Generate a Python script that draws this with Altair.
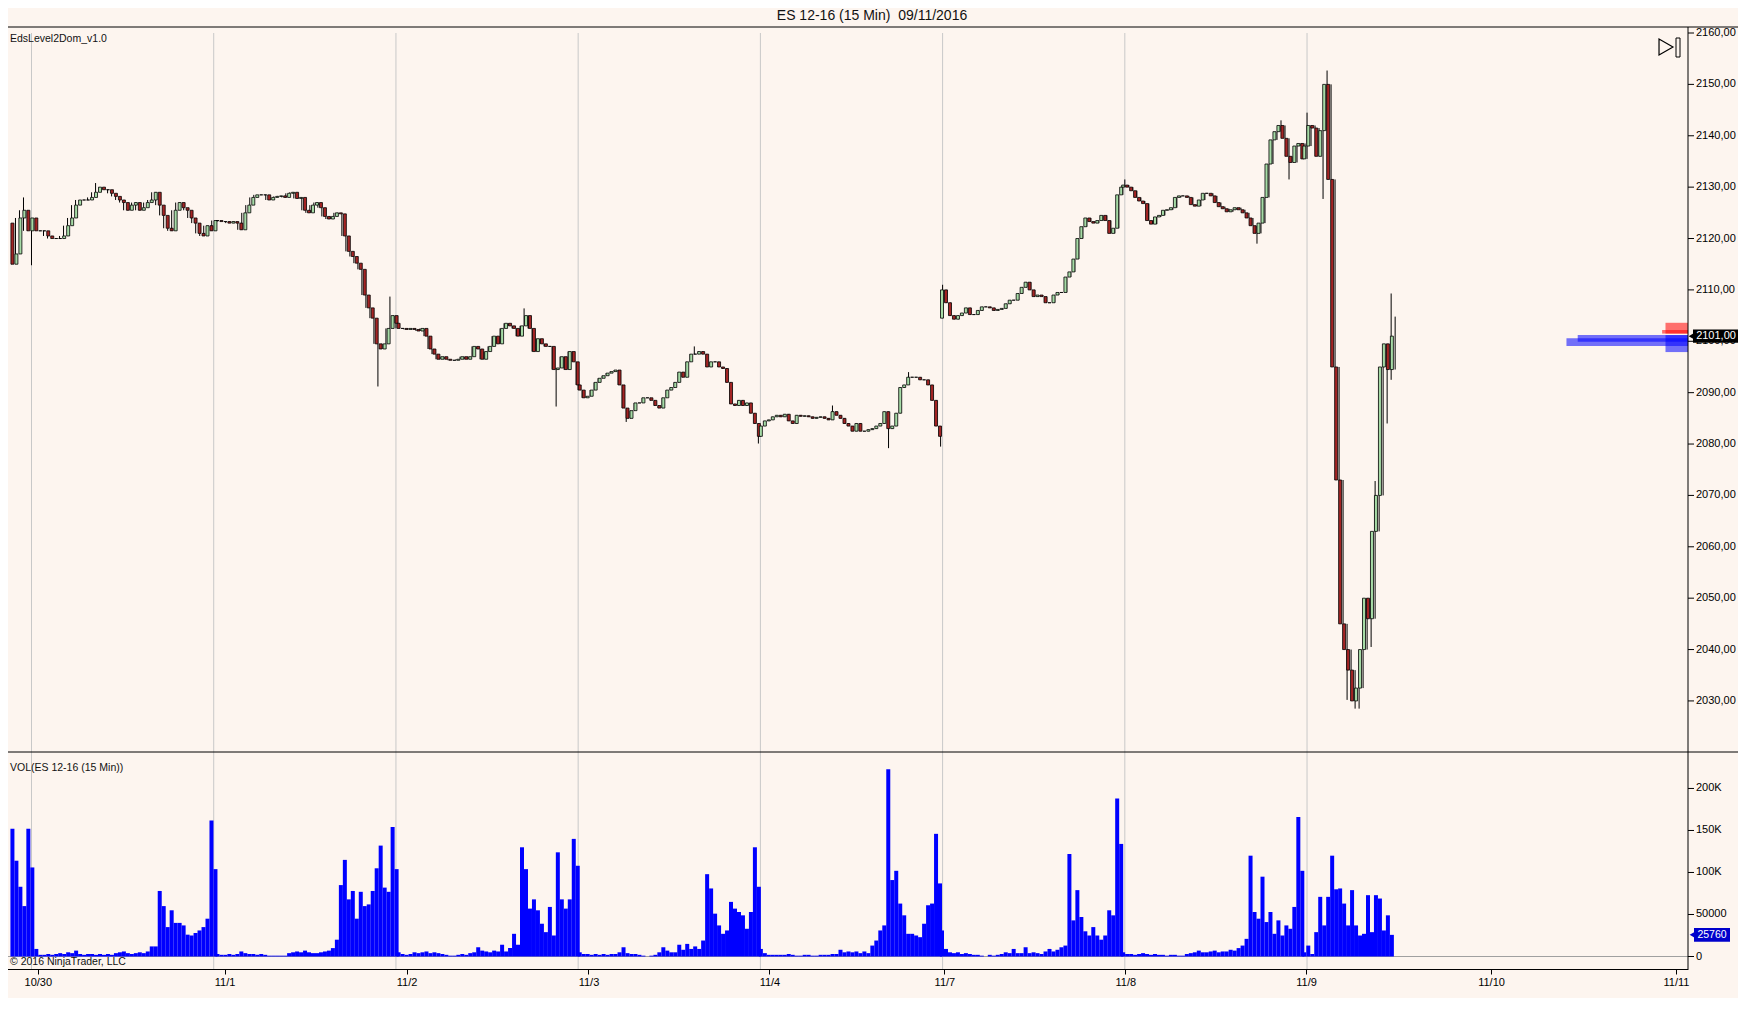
import json
import altair as alt
import pandas as pd

# ---------------- texts ----------------
TITLE = "ES 12-16 (15 Min)\u00a0\u00a009/11/2016"
INDICATOR = "EdsLevel2Dom_v1.0"
VOL_TITLE = "VOL(ES 12-16 (15 Min))"
COPYRIGHT = "\u00a9 2016 NinjaTrader, LLC"

# ---------------- price closes (30-min samples) ----------------
close_pre = [2115.0, 2117.0, 2124.0, 2125.5, 2121.5, 2124.0]
close_1030 = [2121.5, 2121.5, 2121.5, 2120.5, 2120, 2120, 2120, 2120.5, 2122.5, 2124,
              2126.5, 2127.5, 2127.5, 2127.5, 2128, 2129, 2130, 2129.5, 2129.5, 2128.8,
              2128.2, 2127.5, 2127, 2125.5, 2126.5, 2127, 2125.5, 2126, 2127, 2127.5,
              2129, 2126.5, 2124.5, 2122, 2121.5, 2125.5, 2127, 2126, 2125.5, 2124,
              2123, 2121, 2120.5, 2122.5, 2121.5, 2123.5]
close_1031 = [2123.5, 2123.3, 2123.3, 2123, 2123.3, 2123, 2121.7, 2125, 2126.5, 2128,
              2128.5, 2128.5, 2128.5, 2127.5, 2128, 2128.2, 2128.3, 2128, 2128.8, 2129,
              2127.8, 2128, 2125.5, 2125, 2126.5, 2127, 2126, 2124.3, 2123.8, 2124.3,
              2125, 2124.8, 2120.5, 2117.5, 2116.5, 2115.2, 2114, 2109, 2106.5, 2104.5,
              2099.5, 2098.5, 2099.5, 2102.5, 2105, 2103.5]
close_1101 = [2102.5, 2102.5, 2102.3, 2102.5, 2102.3, 2102, 2102.5, 2101, 2098.5, 2097.5,
              2096.5, 2097, 2096.5, 2096.3, 2096.3, 2096.5, 2097, 2096.5, 2097, 2099,
              2098.5, 2096.5, 2098, 2099, 2101, 2099.5, 2102.5, 2103.5, 2103, 2102.5,
              2101, 2103, 2105, 2102.5, 2098, 2100.5, 2099.5, 2099, 2099, 2094.5,
              2094.8, 2097, 2094.5, 2098, 2096, 2091.5]
close_1102 = [2090.5, 2089, 2089.3, 2090.5, 2092, 2092.8, 2093.3, 2093.8, 2094.1, 2094.4,
              2091.5, 2087, 2085, 2086.5, 2088, 2088, 2089, 2089, 2088.5, 2087.5,
              2087, 2089, 2090.5, 2091, 2092, 2094, 2093, 2096, 2097.5, 2097.5,
              2098, 2097.5, 2095, 2096, 2096, 2095, 2094.7, 2092, 2087.8, 2087.5,
              2088.5, 2087.5, 2088, 2086, 2084, 2081.5]
close_1103 = [2083.5, 2084.5, 2084.7, 2085.3, 2085.6, 2085.3, 2085.8, 2084.5, 2084, 2085.6,
              2085.4, 2085.5, 2085.3, 2085, 2085.2, 2085.3, 2085, 2084.7, 2086.3, 2085.6,
              2085, 2084, 2083.5, 2082.5, 2084, 2082.5, 2082.5, 2082.8, 2083, 2083.5,
              2084, 2086.3, 2083, 2083.5, 2086, 2091, 2091.5, 2093, 2093, 2093,
              2092.5, 2092.5, 2091.5, 2088.5, 2083.5, 2081.5]
close_1106 = [2110, 2107.5, 2105, 2104.3, 2105, 2105.5, 2106.5, 2105.2, 2105.2, 2106,
              2106.7, 2106.7, 2106.5, 2106, 2106.2, 2106.4, 2107.3, 2108, 2108, 2109.3,
              2110.5, 2111.5, 2110, 2108.7, 2109, 2108.7, 2107.5, 2107.5, 2109, 2109.5,
              2109.5, 2112.5, 2113.5, 2116, 2120, 2122.3, 2124, 2123.3, 2123, 2123.5,
              2124.5, 2123.5, 2121, 2122, 2128.5, 2130]
close_1107 = [2130.4, 2130, 2129.3, 2128, 2127.3, 2126.8, 2123.5, 2122.8, 2124.2, 2124.5,
              2125.5, 2125.6, 2126, 2128, 2128.3, 2128.3, 2128, 2126.6, 2126.3, 2127.5,
              2128.8, 2128.8, 2128.3, 2127, 2126.2, 2125.8, 2125.2, 2125.6, 2126, 2125.6,
              2125, 2124, 2122.5, 2121, 2123, 2128, 2134.5, 2139.2, 2140.8, 2142,
              2139.5, 2136, 2134.8, 2138, 2138.5, 2135.5]
close_1108 = [2138, 2142, 2141.5, 2136, 2141, 2150, 2131.5, 2095, 2073, 2045,
              2040, 2036, 2030, 2032.5, 2040, 2050, 2046, 2063, 2070, 2095,
              2099.5, 2094.5, 2101]

# ---------------- volume (thousands of contracts, 30-min samples) ----------------
vol_pre = [152, 114, 83, 60, 152, 106]
vol_1030 = [9, 2, 2, 3, 2, 3, 4, 3, 5, 4, 7, 3, 2, 3, 3, 2, 3, 2, 3, 2,
            4, 5, 6, 4, 3, 4, 5, 4, 6, 12, 12, 78, 60, 35, 55, 40, 40, 37, 26, 25,
            28, 31, 35, 45, 162, 104]
vol_1031 = [3, 2, 2, 3, 2, 3, 6, 4, 3, 3, 2, 3, 2, 1, 1, 1, 1, 1, 4, 5,
            6, 5, 7, 5, 4, 4, 5, 6, 7, 10, 20, 85, 115, 68, 78, 45, 77, 60, 62, 78,
            105, 132, 82, 77, 154, 104]
vol_1101 = [5, 3, 2, 3, 5, 4, 5, 6, 4, 5, 4, 3, 2, 1, 1, 2, 3, 2, 4, 5,
            11, 7, 6, 5, 7, 6, 14, 6, 10, 27, 14, 130, 104, 57, 68, 55, 39, 29, 59, 25,
            124, 68, 57, 68, 140, 108]
vol_1102 = [5, 3, 3, 2, 3, 2, 3, 2, 3, 3, 5, 11, 4, 3, 3, 2, 1, 0, 1, 2,
            5, 11, 7, 5, 5, 14, 8, 15, 9, 12, 9, 19, 98, 81, 51, 37, 27, 31, 65, 57,
            53, 49, 33, 53, 130, 83]
vol_1103 = [9, 4, 2, 2, 2, 2, 2, 3, 2, 1, 1, 2, 2, 1, 1, 2, 2, 2, 3, 3,
            8, 5, 6, 5, 6, 4, 6, 4, 13, 19, 31, 37, 223, 91, 102, 63, 49, 27, 27, 25,
            23, 39, 61, 63, 146, 87]
vol_1106 = [31, 9, 5, 4, 5, 3, 4, 3, 2, 2, 1, 0, 2, 1, 2, 3, 5, 4, 9, 4,
            4, 11, 4, 5, 4, 3, 6, 9, 6, 8, 11, 13, 122, 43, 79, 47, 30, 25, 35, 25,
            20, 25, 55, 49, 188, 134]
vol_1107 = [5, 3, 3, 2, 3, 4, 3, 2, 3, 2, 2, 1, 2, 2, 1, 1, 3, 4, 5, 7,
            5, 5, 6, 7, 5, 6, 6, 8, 7, 10, 13, 21, 120, 53, 45, 95, 41, 53, 27, 43,
            25, 37, 33, 59, 166, 102]
vol_1108 = [5, 13, 3, 29, 71, 37, 71, 120, 80, 81, 63, 37, 79, 37, 25, 27, 73, 29, 73, 69,
            31, 49, 25.76]

session_closes = [close_1030, close_1031, close_1101, close_1102,
                  close_1103, close_1106, close_1107, close_1108]
session_vols = [vol_1030, vol_1031, vol_1101, vol_1102,
                vol_1103, vol_1106, vol_1107, vol_1108]

open_first = 2123.0
gap_session = [5]
gap_open = [2104.5]

# (session, sample, value) ; session -1 = the bars before 10/30
wick_high = [(-1, 4, 2128.0), (0, 16, 2130.8), (1, 44, 2108.7), (2, 32, 2106.4),
             (3, 29, 2099.0), (4, 18, 2087.5), (4, 37, 2094.0), (5, 0, 2111.0),
             (6, 0, 2131.5), (6, 39, 2143.0), (7, 0, 2144.5), (7, 5, 2152.7),
             (7, 17, 2072.8), (7, 21, 2109.3), (7, 22, 2104.8)]
wick_low = [(-1, 0, 2113.0), (0, 0, 2114.8), (1, 41, 2091.2), (2, 40, 2087.3),
            (3, 12, 2084.3), (3, 45, 2080.1), (4, 32, 2079.2), (4, 45, 2079.5),
            (6, 33, 2119.0), (6, 41, 2131.5), (7, 4, 2127.7), (7, 10, 2030.2),
            (7, 12, 2028.5), (7, 13, 2028.5), (7, 16, 2040.5), (7, 20, 2084.0),
            (7, 21, 2092.5)]

session_length = 91          # 15-minute bars per session
pre_start = -12

grid_pos = [0, 91, 182, 273, 364, 455, 546, 637]
date_pos = [0.75, 94.6, 186, 277.4, 368.3, 456.2, 547.1, 637.9, 730.8, 823.7]
date_labels = ["10/30", "11/1", "11/2", "11/3", "11/4", "11/7", "11/8", "11/9", "11/10", "11/11"]
price_ticks = [2030, 2040, 2050, 2060, 2070, 2080, 2090, 2100, 2110, 2120, 2130, 2140, 2150, 2160]
vol_ticks = [0, 50000, 100000, 150000, 200000]
vol_tick_labels = ["0", "50000", "100K", "150K", "200K"]

# Level-2 depth bands (ask / bid)
dom_side = ["ask", "ask", "bid", "bid", "bid"]
dom_lo = [2101.5, 2101.5, 2097.9, 2099.9, 2099.1]
dom_hi = [2103.6, 2102.2, 2101.2, 2101.2, 2100.6]
dom_size = [20, 23, 20, 98, 108]

# ---------------- build table ----------------
gaps = dict(zip(gap_session, gap_open))
hi_over = {(s, j): v for s, j, v in wick_high}
lo_over = {(s, j): v for s, j, v in wick_low}
recs = []
prev = open_first
all_sessions = [(-1, close_pre, vol_pre)] + [
    (d, c, v) for d, (c, v) in enumerate(zip(session_closes, session_vols))]
for s, cl, vo in all_sessions:
    assert len(cl) == len(vo), (s, len(cl), len(vo))
    base = pre_start if s < 0 else session_length * s
    for j, (c, v) in enumerate(zip(cl, vo)):
        o = gaps.get(s, prev) if j == 0 else prev
        h = max(o, c, hi_over.get((s, j), c))
        lo = min(o, c, lo_over.get((s, j), c))
        recs.append(dict(t=base + 2 * j, open=o, close=c, high=h, low=lo,
                         vol=v * 1000, vol0=0, dir="up" if c >= o else "down"))
        prev = c
df = pd.DataFrame(recs)

last_price = close_1108[-1]
last_vol = vol_1108[-1] * 1000

# ---------------- scales / geometry ----------------
W, H = 1688, 942
FONT = "Liberation Sans"
XS = alt.Scale(domain=[-15.73, 827.25], range=[0, W], nice=False, zero=False)
PS = alt.Scale(domain=[2020.06, 2161.17], range=[725, 0], nice=False, zero=False)
VS = alt.Scale(domain=[0, 244000], range=[929.5, 724.5], nice=False, zero=False)
DS = alt.Scale(domain=[0, 1500], range=[W, 0], nice=False, zero=False)

one = pd.DataFrame({"z": [0]})

label_expr = "%s[indexof(%s, datum.value)]" % (json.dumps(date_labels), json.dumps(date_pos))

grid = alt.Chart(pd.DataFrame({"g": grid_pos})).mark_rule(color="#c8c8c8", strokeWidth=1).encode(
    x=alt.X("g:Q", scale=XS, axis=None), y=alt.value(6), y2=alt.value(H))

zero_line = alt.Chart(one).mark_rule(color="#a0a0a0", strokeWidth=1).encode(
    x=alt.value(0), x2=alt.value(W), y=alt.Y("z:Q", scale=VS, axis=None))

vol_bars = alt.Chart(df).mark_bar(size=4, color="#0000ff").encode(
    x=alt.X("t:Q", scale=XS, axis=alt.Axis(
        values=date_pos, labelExpr=label_expr, grid=False, title=None,
        domainColor="black", tickColor="black", tickSize=5, labelColor="black",
        labelFont=FONT, labelFontSize=11, labelPadding=2, labelOverlap=False, labelFlush=False)),
    y=alt.Y("vol:Q", scale=VS, axis=None), y2="vol0:Q")

wicks = alt.Chart(df).mark_rule(color="black", strokeWidth=1).encode(
    x=alt.X("t:Q", scale=XS, axis=None), y=alt.Y("low:Q", scale=PS, axis=None), y2="high:Q")

bodies = alt.Chart(df).mark_bar(size=3, stroke="black", strokeWidth=0.8).encode(
    x=alt.X("t:Q", scale=XS, axis=None),
    y=alt.Y("open:Q", scale=PS, axis=None), y2="close:Q",
    fill=alt.Fill("dir:N", scale=alt.Scale(domain=["up", "down"], range=["#a6dba6", "#a42424"]), legend=None))

dom_df = pd.DataFrame({"side": dom_side, "lo": dom_lo, "hi": dom_hi, "size": dom_size, "zero": 0})
dom = alt.Chart(dom_df).mark_rect(opacity=0.55).encode(
    x=alt.X("size:Q", scale=DS, axis=None), x2="zero:Q",
    y=alt.Y("lo:Q", scale=PS, axis=None), y2="hi:Q",
    color=alt.Color("side:N", scale=alt.Scale(domain=["ask", "bid"], range=["#ff0000", "#0000ff"]), legend=None))

top_line = alt.Chart(one).mark_rule(color="black", strokeWidth=1).encode(
    x=alt.value(0), x2=alt.value(1760), y=alt.value(0))
sep_line = alt.Chart(one).mark_rule(color="black", strokeWidth=1).encode(
    x=alt.value(0), x2=alt.value(1760), y=alt.value(725))
right_axis = alt.Chart(one).mark_rule(color="black", strokeWidth=1).encode(
    x=alt.value(W), y=alt.value(0), y2=alt.value(H))

pt_df = pd.DataFrame({"p": price_ticks})
price_tick_marks = alt.Chart(pt_df).mark_rule(color="black").encode(
    x=alt.value(W), x2=alt.value(W + 6), y=alt.Y("p:Q", scale=PS, axis=None))
price_labels = alt.Chart(pt_df).transform_calculate(
    lab="replace(format(datum.p, '.2f'), '.', ',')"
).mark_text(align="left", baseline="middle", font=FONT, fontSize=11, color="black").encode(
    x=alt.value(W + 8), y=alt.Y("p:Q", scale=PS, axis=None), text="lab:N")

vt_df = pd.DataFrame({"v": vol_ticks, "lab": vol_tick_labels})
vol_tick_marks = alt.Chart(vt_df).mark_rule(color="black").encode(
    x=alt.value(W), x2=alt.value(W + 6), y=alt.Y("v:Q", scale=VS, axis=None))
vol_labels = alt.Chart(vt_df).mark_text(align="left", baseline="middle", font=FONT, fontSize=11, color="black").encode(
    x=alt.value(W + 8), y=alt.Y("v:Q", scale=VS, axis=None), text="lab:N")

lp_df = pd.DataFrame({"p": [last_price], "ph": [last_price + 1.31], "pl": [last_price - 1.31],
                      "lab": [("%.2f" % last_price).replace(".", ",")]})
lp_box = alt.Chart(lp_df).mark_rect(color="black").encode(
    x=alt.value(W + 5), x2=alt.value(W + 51), y=alt.Y("ph:Q", scale=PS, axis=None), y2="pl:Q")
lp_arrow = alt.Chart(lp_df).mark_point(shape="triangle-left", filled=True, color="black", size=60, opacity=1).encode(
    x=alt.value(W + 4), y=alt.Y("p:Q", scale=PS, axis=None))
lp_text = alt.Chart(lp_df).mark_text(align="center", baseline="middle", font=FONT, fontSize=11, color="white").encode(
    x=alt.value(W + 28), y=alt.Y("p:Q", scale=PS, axis=None), text="lab:N")

lv_df = pd.DataFrame({"v": [last_vol], "vh": [last_vol + 8300], "vl": [last_vol - 8300],
                      "lab": ["%d" % round(last_vol)]})
lv_box = alt.Chart(lv_df).mark_rect(color="#0000cc").encode(
    x=alt.value(W + 6), x2=alt.value(W + 42), y=alt.Y("vh:Q", scale=VS, axis=None), y2="vl:Q")
lv_arrow = alt.Chart(lv_df).mark_point(shape="triangle-left", filled=True, color="#0000cc", size=60, opacity=1).encode(
    x=alt.value(W + 5), y=alt.Y("v:Q", scale=VS, axis=None))
lv_text = alt.Chart(lv_df).mark_text(align="center", baseline="middle", font=FONT, fontSize=10.5, color="white").encode(
    x=alt.value(W + 24), y=alt.Y("v:Q", scale=VS, axis=None), text="lab:N")

def label(txt, x, y, size, align="left"):
    return alt.Chart(one).mark_text(align=align, baseline="middle", font=FONT, fontSize=size,
                                    color="#111111", text=txt).encode(x=alt.value(x), y=alt.value(y))

title = label(TITLE, 872, -11, 14, "center")
ind = label(INDICATOR, 10, 12, 10.5)
volt = label(VOL_TITLE, 10, 741, 10.5)
copy = label(COPYRIGHT, 10, 935, 10.5)

icon_tri = alt.Chart(one).mark_point(shape="triangle-right", filled=False, color="black",
                                     size=260, strokeWidth=1.2, opacity=1).encode(
    x=alt.value(1666), y=alt.value(20))
icon_bar = alt.Chart(one).mark_rect(fillOpacity=0, stroke="black", strokeWidth=1).encode(
    x=alt.value(1676), x2=alt.value(1680), y=alt.value(11), y2=alt.value(30))

chart = alt.layer(
    grid, zero_line, vol_bars, wicks, bodies, dom,
    top_line, sep_line, right_axis,
    price_tick_marks, price_labels, vol_tick_marks, vol_labels,
    lp_box, lp_arrow, lp_text, lv_box, lv_arrow, lv_text,
    title, ind, volt, copy, icon_tri, icon_bar,
).resolve_scale(x="independent", y="independent", fill="independent", color="independent").properties(
    width=W, height=H,
    autosize=alt.AutoSizeParams(type="none"),
    padding={"left": -8, "top": 19, "right": 50, "bottom": 29},
).configure(background="#fdf5ef").configure_view(stroke=None)

chart.save("out.html", embed_options={"renderer": "svg", "actions": False})
